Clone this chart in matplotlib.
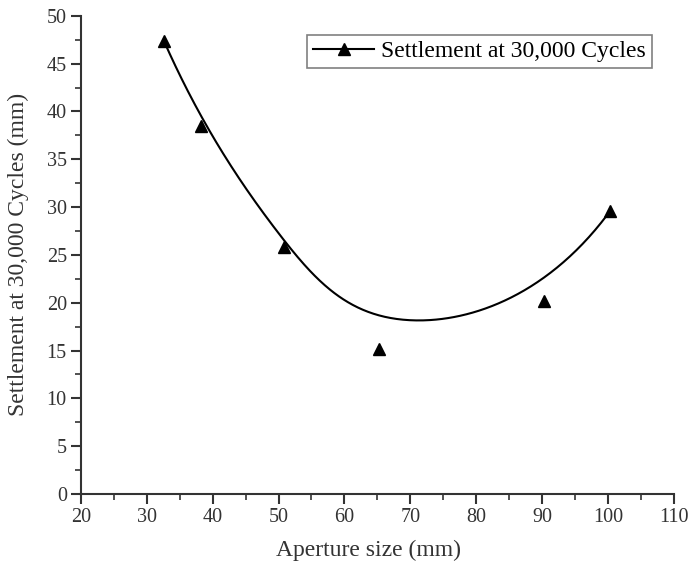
import matplotlib.pyplot as plt
import numpy as np

plt.rcParams['font.family'] = ['Liberation Serif', 'DejaVu Serif']

# data
aperture = [32.6, 38.3, 50.8, 65.2, 90.3, 100.3]
settlement = [47.4, 38.5, 25.8, 15.2, 20.2, 29.6]


def bspline(px, py, k=3, num=400):
    # clamped uniform B-spline using the data points as control points
    n = len(px)
    inner = np.linspace(0, 1, n - k + 1)
    knots = np.concatenate([np.zeros(k), inner, np.ones(k)])
    t = np.linspace(0, 1, num)
    t[-1] -= 1e-10

    def basis(i, p, u):
        if p == 0:
            return ((knots[i] <= u) & (u < knots[i + 1])).astype(float)
        out = np.zeros_like(u)
        d1 = knots[i + p] - knots[i]
        d2 = knots[i + p + 1] - knots[i + 1]
        if d1 > 0:
            out += (u - knots[i]) / d1 * basis(i, p - 1, u)
        if d2 > 0:
            out += (knots[i + p + 1] - u) / d2 * basis(i + 1, p - 1, u)
        return out

    B = np.array([basis(i, k, t) for i in range(n)])
    return B.T @ np.array(px), B.T @ np.array(py)


x_fit, y_fit = bspline(aperture, settlement)

fig = plt.figure(figsize=(6.9, 5.64), dpi=100)
ax = fig.add_axes([0.117, 0.124, 0.86, 0.848])

ax.plot(x_fit, y_fit, color='black', linewidth=1.5)
ax.plot(aperture, settlement, linestyle='none', marker='^', color='black', markersize=8)
# proxy for legend
ax.plot([], [], color='black', linewidth=1.5, marker='^', markersize=8,
        label='Settlement at 30,000 Cycles')

ax.set_xlim(20, 110)
ax.set_ylim(0, 50)
ax.set_xticks(np.arange(20, 111, 10))
ax.set_yticks(np.arange(0, 51, 5))
ax.set_xticks(np.arange(25, 110, 10), minor=True)
ax.set_yticks(np.arange(2.5, 50, 5), minor=True)

for s in ['top', 'right']:
    ax.spines[s].set_visible(False)
for s in ['left', 'bottom']:
    ax.spines[s].set_linewidth(1.5)
    ax.spines[s].set_color('#333333')

ax.tick_params(which='major', direction='out', length=7, width=1.5, labelsize=14.5,
               colors='#333333', pad=3)
ax.tick_params(which='minor', direction='out', length=4, width=1.2, colors='#333333')

ax.set_xlabel('Aperture size (mm)', fontsize=17, color='#333333', labelpad=9)
ax.xaxis.label.set_x(0.485)
ax.set_ylabel('Settlement at 30,000 Cycles (mm)', fontsize=17, color='#333333', labelpad=13)

leg = ax.legend(loc='upper left', bbox_to_anchor=(307 / 690, 1 - 35 / 564),
                bbox_transform=fig.transFigure, fontsize=17, fancybox=False,
                edgecolor='gray', framealpha=1, borderpad=0.25, handlelength=2.6,
                handletextpad=0.3, borderaxespad=0.0)
leg.get_frame().set_linewidth(1.2)

fig.savefig('out.png', dpi=100)
